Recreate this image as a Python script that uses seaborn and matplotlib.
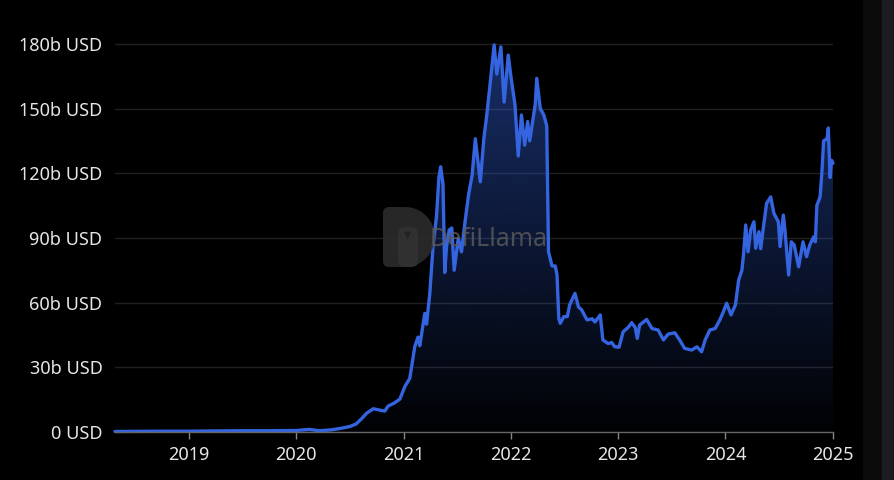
import numpy as np
import pandas as pd
import seaborn as sns
import matplotlib.pyplot as plt
from matplotlib.patches import PathPatch, Rectangle, FancyBboxPatch
from matplotlib.path import Path
from matplotlib.ticker import FixedLocator, FuncFormatter
import matplotlib.dates as mdates

# TVL (billions of USD)
dates = [
    "2018-04-25", "2018-07-01", "2018-10-01", "2019-01-01", "2019-04-01", "2019-07-01",
    "2019-10-01", "2020-01-01", "2020-02-15", "2020-03-20", "2020-05-01", "2020-06-01",
    "2020-07-01", "2020-07-23", "2020-08-10", "2020-08-28", "2020-09-20", "2020-10-10",
    "2020-10-29", "2020-11-09", "2020-12-01", "2020-12-19", "2021-01-05", "2021-01-22",
    "2021-02-08", "2021-02-19", "2021-02-25", "2021-03-14", "2021-03-20", "2021-03-31",
    "2021-04-11", "2021-04-23", "2021-05-01", "2021-05-07", "2021-05-15", "2021-05-21",
    "2021-05-27", "2021-06-05", "2021-06-14", "2021-06-22", "2021-07-06", "2021-07-17",
    "2021-07-29", "2021-08-10", "2021-08-22", "2021-09-02", "2021-09-14", "2021-09-19",
    "2021-10-01", "2021-10-11", "2021-10-22", "2021-11-05", "2021-11-14", "2021-11-28",
    "2021-12-09", "2021-12-23", "2022-01-01", "2022-01-15", "2022-01-26", "2022-02-06",
    "2022-02-17", "2022-02-27", "2022-03-06", "2022-03-25", "2022-03-30", "2022-04-11",
    "2022-04-23", "2022-05-03", "2022-05-09", "2022-05-21", "2022-06-01", "2022-06-07",
    "2022-06-13", "2022-06-18", "2022-06-30", "2022-07-12", "2022-07-20", "2022-08-07",
    "2022-08-19", "2022-08-30", "2022-09-17", "2022-10-05", "2022-10-14", "2022-11-01",
    "2022-11-10", "2022-11-28", "2022-12-10", "2022-12-20", "2023-01-04", "2023-01-18",
    "2023-02-04", "2023-02-16", "2023-02-28", "2023-03-07", "2023-03-15", "2023-04-08",
    "2023-04-26", "2023-05-17", "2023-06-04", "2023-06-20", "2023-07-13", "2023-07-31",
    "2023-08-15", "2023-09-08", "2023-09-26", "2023-10-12", "2023-10-24", "2023-11-09",
    "2023-11-27", "2023-12-13", "2023-12-25", "2024-01-05", "2024-01-20", "2024-02-04",
    "2024-02-15", "2024-02-26", "2024-03-03", "2024-03-10", "2024-03-18", "2024-03-27",
    "2024-04-07", "2024-04-13", "2024-04-24", "2024-04-30", "2024-05-08", "2024-05-20",
    "2024-06-03", "2024-06-14", "2024-06-29", "2024-07-05", "2024-07-16", "2024-07-22",
    "2024-08-03", "2024-08-12", "2024-08-22", "2024-09-06", "2024-09-21", "2024-10-03",
    "2024-10-14", "2024-10-27", "2024-11-02", "2024-11-07", "2024-11-18", "2024-11-24",
    "2024-11-30", "2024-12-12", "2024-12-16", "2024-12-22", "2024-12-27", "2025-01-01",
]
tvl = [
    0.25, 0.3, 0.35, 0.35, 0.5, 0.6,
    0.6, 0.7, 1.2, 0.6, 1.0, 1.7,
    2.5, 3.7, 6.0, 8.7, 10.8, 10.2,
    9.7, 12.0, 13.5, 15.2, 21.0, 24.9,
    39.6, 44.0, 40.0, 55.0, 50.0, 64.0,
    86.0, 100.0, 118.0, 123.0, 115.0, 74.0,
    86.0, 93.7, 94.6, 75.0, 89.8, 83.6,
    97.5, 110.0, 119.0, 136.0, 122.0, 116.0,
    136.0, 147.0, 161.0, 179.5, 166.0, 178.6,
    153.0, 174.8, 165.0, 151.6, 128.0, 147.0,
    133.0, 144.0, 135.0, 152.0, 164.0, 150.0,
    147.0, 142.0, 83.6, 77.0, 77.0, 72.8,
    52.7, 50.4, 53.5, 53.5, 59.0, 64.3,
    58.0, 56.6, 52.0, 52.5, 51.0, 54.3,
    42.7, 41.0, 41.5, 39.6, 39.3, 46.5,
    48.5, 50.7, 48.5, 43.4, 49.6, 52.2,
    48.0, 47.3, 42.7, 45.4, 46.0, 42.3,
    38.8, 38.0, 39.5, 37.2, 42.7, 47.3,
    48.0, 52.0, 55.8, 59.7, 54.3, 59.0,
    70.5, 75.0, 82.9, 96.0, 83.6, 93.7,
    97.5, 85.2, 92.9, 85.0, 93.7, 106.0,
    109.0, 101.4, 97.5, 86.0, 100.6, 93.0,
    72.8, 88.2, 86.7, 76.6, 88.2, 81.3,
    86.7, 90.5, 88.2, 105.0, 109.0, 120.0,
    135.0, 136.0, 141.0, 118.0, 126.0, 124.6,
]
y_ticks = [0, 30, 60, 90, 120, 150, 180]
x_years = ["2019", "2020", "2021", "2022", "2023", "2024", "2025"]

df = pd.DataFrame({"date": pd.to_datetime(dates), "tvl": tvl})

sns.set_theme(style="dark")
plt.rcParams['font.family'] = ['Noto Sans', 'DejaVu Sans']

line_col = "#3464e0"
W, H = 895, 480
fig = plt.figure(figsize=(8.95, 4.8), dpi=100, facecolor="black")
ax = fig.add_axes([115 / W, 48 / H, 718 / W, 401.1 / H])
ax.set_facecolor("black")

# gradient fill under the curve
xnum = mdates.date2num(df["date"])
ymax = 186
grad = np.zeros((256, 1, 4))
grad[:, 0, 0] = 52 / 255
grad[:, 0, 1] = 100 / 255
grad[:, 0, 2] = 224 / 255
grad[:, 0, 3] = np.linspace(0.48, 0.02, 256)
im = ax.imshow(grad, aspect="auto", extent=[xnum[0], xnum[-1], 0, ymax],
               origin="upper", zorder=1)
poly = ax.fill_between(df["date"], df["tvl"], 0, color="none", lw=0)
im.set_clip_path(poly.get_paths()[0], transform=ax.transData)

sns.lineplot(data=df, x="date", y="tvl", ax=ax, color=line_col, lw=2.4, zorder=4)
for l in ax.lines:
    l.set_clip_on(False)

ax.set_xlim(xnum[0], xnum[-1])
ax.set_ylim(0, ymax)
ax.set_xlabel("")
ax.set_ylabel("")

ax.yaxis.set_major_locator(FixedLocator(y_ticks))
ax.yaxis.set_major_formatter(FuncFormatter(lambda v, p: "0 USD" if v == 0 else f"{v:.0f}b USD"))
ax.set_xticks(mdates.date2num(pd.to_datetime([y + "-01-01" for y in x_years])))
ax.set_xticklabels(x_years)

ax.grid(axis="y", color="#202020", lw=1)
ax.grid(axis="x", visible=False)
for s in ["top", "right", "left"]:
    ax.spines[s].set_visible(False)
ax.spines["bottom"].set_visible(True)
ax.spines["bottom"].set_color("#666666")
ax.spines["bottom"].set_linewidth(1)
ax.spines["bottom"].set_zorder(5)
ax.tick_params(axis="y", length=0, pad=9, labelsize=13, labelcolor="#e6e6e6")
ax.tick_params(axis="x", length=5, width=1, color="#888888", pad=5,
               labelsize=13, labelcolor="#e6e6e6", bottom=True)

# watermark: D-shaped badge with a llama, then the name
def px(x, y):
    return (x / W, 1 - y / H)

left, right, top, bot = 383, 435, 207, 267
r_small = 6
R = (bot - top) / 2
cx = right - R
verts = [px(left + r_small, top)]
codes = [Path.MOVETO]
for a in np.linspace(90, -90, 30):
    verts.append(px(cx + R * np.cos(np.radians(a)), top + R - R * np.sin(np.radians(a))))
    codes.append(Path.LINETO)
verts += [px(left + r_small, bot), px(left, bot), px(left, bot - r_small),
          px(left, top + r_small), px(left, top), px(left + r_small, top)]
codes += [Path.LINETO, Path.CURVE3, Path.CURVE3, Path.LINETO, Path.CURVE3, Path.CURVE3]
badge = PathPatch(Path(verts, codes), transform=fig.transFigure, fc="#2e2e2e",
                  ec="none", alpha=0.85, zorder=3)
fig.patches.append(badge)
neck = FancyBboxPatch(px(398, 267), 20 / W, 40 / H, boxstyle="round,pad=0,rounding_size=0.01",
                      transform=fig.transFigure, fc="#474747", ec="none", alpha=0.85)
fig.patches.append(neck)
fig.text(408 / W, 1 - 235 / H, "\u25bc", color="#222222", fontsize=7,
         ha="center", va="center")
fig.text(430 / W, 1 - 240 / H, "DefiLlama", color="#5c5c5c", fontsize=18,
         fontweight="bold", ha="left", va="center", alpha=0.8, zorder=3)

# right-hand strip
fig.patches.append(Rectangle((863 / W, 0), 19 / W, 1, transform=fig.transFigure,
                             fc="#0b0b0c", ec="none"))
fig.patches.append(Rectangle((882 / W, 0), 13 / W, 1, transform=fig.transFigure,
                             fc="#1b1c1f", ec="none"))

fig.savefig("out.png", dpi=100, facecolor="black")
